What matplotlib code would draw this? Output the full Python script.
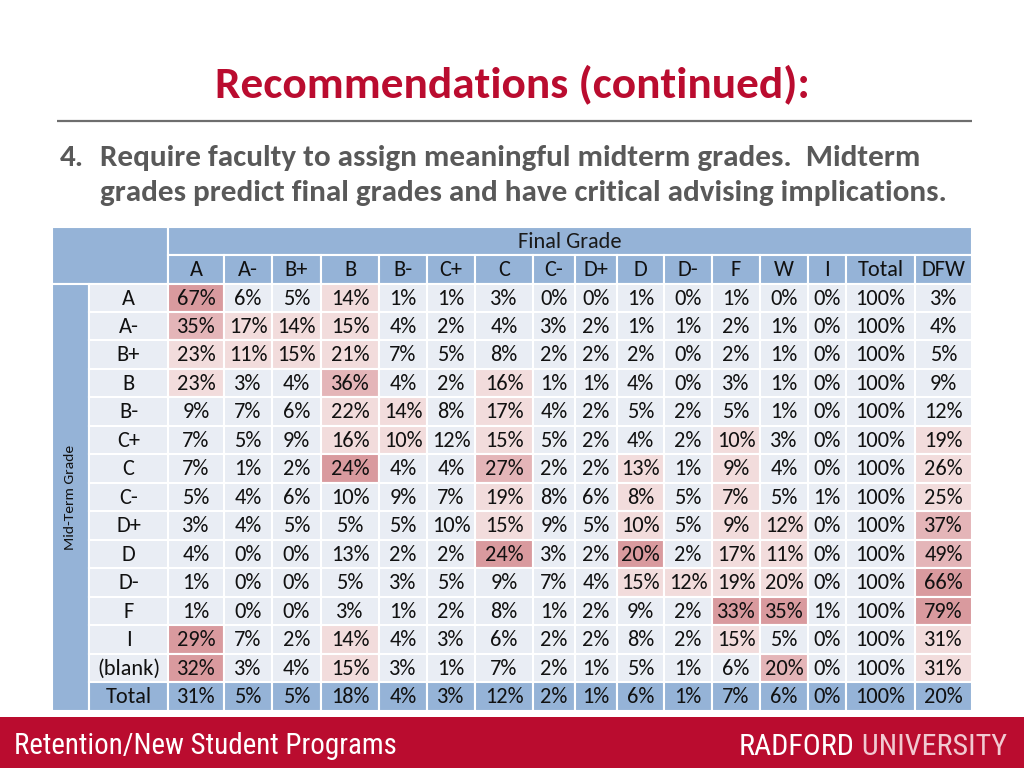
import matplotlib
matplotlib.use("Agg")
import matplotlib.pyplot as plt
from matplotlib.patches import Rectangle
from matplotlib import font_manager as fm

# ---------------- data ----------------
final_grades = ["A", "A-", "B+", "B", "B-", "C+", "C", "C-", "D+", "D", "D-",
                "F", "W", "I", "Total", "DFW"]
midterm_grades = ["A", "A-", "B+", "B", "B-", "C+", "C", "C-", "D+", "D", "D-",
                  "F", "I", "(blank)", "Total"]

row_A     = [67, 6, 5, 14, 1, 1, 3, 0, 0, 1, 0, 1, 0, 0, 100, 3]
row_Am    = [35, 17, 14, 15, 4, 2, 4, 3, 2, 1, 1, 2, 1, 0, 100, 4]
row_Bp    = [23, 11, 15, 21, 7, 5, 8, 2, 2, 2, 0, 2, 1, 0, 100, 5]
row_B     = [23, 3, 4, 36, 4, 2, 16, 1, 1, 4, 0, 3, 1, 0, 100, 9]
row_Bm    = [9, 7, 6, 22, 14, 8, 17, 4, 2, 5, 2, 5, 1, 0, 100, 12]
row_Cp    = [7, 5, 9, 16, 10, 12, 15, 5, 2, 4, 2, 10, 3, 0, 100, 19]
row_C     = [7, 1, 2, 24, 4, 4, 27, 2, 2, 13, 1, 9, 4, 0, 100, 26]
row_Cm    = [5, 4, 6, 10, 9, 7, 19, 8, 6, 8, 5, 7, 5, 1, 100, 25]
row_Dp    = [3, 4, 5, 5, 5, 10, 15, 9, 5, 10, 5, 9, 12, 0, 100, 37]
row_D     = [4, 0, 0, 13, 2, 2, 24, 3, 2, 20, 2, 17, 11, 0, 100, 49]
row_Dm    = [1, 0, 0, 5, 3, 5, 9, 7, 4, 15, 12, 19, 20, 0, 100, 66]
row_F     = [1, 0, 0, 3, 1, 2, 8, 1, 2, 9, 2, 33, 35, 1, 100, 79]
row_I     = [29, 7, 2, 14, 4, 3, 6, 2, 2, 8, 2, 15, 5, 0, 100, 31]
row_blank = [32, 3, 4, 15, 3, 1, 7, 2, 1, 5, 1, 6, 20, 0, 100, 31]
row_total = [31, 5, 5, 18, 4, 3, 12, 2, 1, 6, 1, 7, 6, 0, 100, 20]

# highlight level of each cell as seen in the picture (0 none .. 3 strong)
hl_A     = [3, 0, 0, 1, 0, 0, 0, 0, 0, 0, 0, 0, 0, 0, 0, 0]
hl_Am    = [2, 1, 1, 1, 0, 0, 0, 0, 0, 0, 0, 0, 0, 0, 0, 0]
hl_Bp    = [1, 1, 1, 1, 0, 0, 0, 0, 0, 0, 0, 0, 0, 0, 0, 0]
hl_B     = [1, 0, 0, 2, 0, 0, 1, 0, 0, 0, 0, 0, 0, 0, 0, 0]
hl_Bm    = [0, 0, 0, 1, 1, 0, 1, 0, 0, 0, 0, 0, 0, 0, 0, 0]
hl_Cp    = [0, 0, 0, 1, 1, 0, 1, 0, 0, 0, 0, 1, 0, 0, 0, 1]
hl_C     = [0, 0, 0, 3, 0, 0, 2, 0, 0, 1, 0, 1, 0, 0, 0, 1]
hl_Cm    = [0, 0, 0, 0, 0, 0, 1, 0, 0, 1, 0, 1, 0, 0, 0, 1]
hl_Dp    = [0, 0, 0, 0, 0, 0, 1, 0, 0, 1, 0, 1, 1, 0, 0, 2]
hl_D     = [0, 0, 0, 0, 0, 0, 3, 0, 0, 3, 0, 1, 1, 0, 0, 2]
hl_Dm    = [0, 0, 0, 0, 0, 0, 0, 0, 0, 1, 1, 1, 1, 0, 0, 3]
hl_F     = [0, 0, 0, 0, 0, 0, 0, 0, 0, 0, 0, 3, 3, 0, 0, 3]
hl_I     = [3, 0, 0, 1, 0, 0, 0, 0, 0, 0, 0, 1, 0, 0, 0, 1]
hl_blank = [3, 0, 0, 1, 0, 0, 0, 0, 0, 0, 0, 0, 2, 0, 0, 1]

rows = [row_A, row_Am, row_Bp, row_B, row_Bm, row_Cp, row_C, row_Cm, row_Dp,
        row_D, row_Dm, row_F, row_I, row_blank, row_total]
highlights = [hl_A, hl_Am, hl_Bp, hl_B, hl_Bm, hl_Cp, hl_C, hl_Cm, hl_Dp,
              hl_D, hl_Dm, hl_F, hl_I, hl_blank, [0] * 16]

title = "Recommendations (continued):"
bullet_num = "4."
bullet_line1 = "Require faculty to assign meaningful midterm grades.  Midterm"
bullet_line2 = "grades predict final grades and have critical advising implications."
col_header = "Final Grade"
row_header = "Mid-Term Grade"
footer_left = "Retention/New Student Programs"
footer_right_1 = "RADFORD"
footer_right_2 = "UNIVERSITY"

# ---------------- fonts ----------------
avail = {f.name for f in fm.fontManager.ttflist}


def pick(*names):
    for n in names:
        if n in avail:
            return n
    return "DejaVu Sans"


BODY = pick("Carlito", "Lato", "Open Sans")
NARROW = pick("Liberation Sans Narrow", "Roboto Condensed", "Lato")

# ---------------- layout / style ----------------
RED = "#BA0C2F"
BLUE = "#95B3D7"
BASE = "#E9EDF4"
PINKS = {1: "#F2DCDC", 2: "#E4B5B8", 3: "#D99A9E"}
GRAY_TXT = "#595959"

fig = plt.figure(figsize=(10.24, 7.68), dpi=100)
ax = fig.add_axes([0, 0, 1, 1])
ax.set_xlim(0, 1024)
ax.set_ylim(768, 0)
ax.axis("off")
renderer = fig.canvas.get_renderer()


def fit(t, target, dim="width"):
    for _ in range(3):
        bb = t.get_window_extent(renderer)
        w = bb.width if dim == "width" else bb.height
        t.set_fontsize(t.get_fontsize() * target / w)
    return t.get_fontsize()


# title
t = ax.text(512, 97, title, ha="center", va="baseline", color=RED,
            fontfamily=BODY, fontweight="bold", fontsize=28)
fit(t, 595)

# rule
ax.plot([57, 972], [121, 121], color="#6E6E6E", lw=1.6, solid_capstyle="butt")

# bullet text
t1 = ax.text(100, 166, bullet_line1, ha="left", va="baseline", color=GRAY_TXT,
             fontfamily=BODY, fontweight="bold", fontsize=18)
fs_b = fit(t1, 820)
ax.text(60, 166, bullet_num, ha="left", va="baseline", color=GRAY_TXT,
        fontfamily=BODY, fontweight="bold", fontsize=fs_b)
ax.text(100, 201, bullet_line2, ha="left", va="baseline", color=GRAY_TXT,
        fontfamily=BODY, fontweight="bold", fontsize=fs_b)

# table geometry
col_edges = [168, 224, 272, 321, 379, 427, 475, 533, 575, 617, 664, 712,
             760, 808, 846, 915, 972]
x_left, x_lab = 52, 89
y_top, y_hdr, y_rows = 227, 255, 283.5
row_h = 28.47
GRID = dict(edgecolor="white", lw=1.5)

# table text size (fit "100%" to ~50px)
tmp = ax.text(0, 0, "100%", fontfamily=BODY, fontsize=14)
fs_t = fit(tmp, 50)
tmp.remove()

# header blocks
ax.add_patch(Rectangle((x_left, y_top), col_edges[0] - x_left, y_rows - y_top,
                       facecolor=BLUE, **GRID))
ax.add_patch(Rectangle((col_edges[0], y_top), col_edges[-1] - col_edges[0],
                       y_hdr - y_top, facecolor=BLUE, **GRID))
ax.text((col_edges[0] + col_edges[-1]) / 2, (y_top + y_hdr) / 2 + 6.5, col_header,
        ha="center", va="baseline", fontfamily=BODY, fontsize=fs_t,
        color="#1a1a1a")
for j, lab in enumerate(final_grades):
    x0, x1 = col_edges[j], col_edges[j + 1]
    ax.add_patch(Rectangle((x0, y_hdr), x1 - x0, y_rows - y_hdr,
                           facecolor=BLUE, **GRID))
    ax.text((x0 + x1) / 2, (y_hdr + y_rows) / 2 + 6.8, lab, ha="center",
            va="baseline", fontfamily=BODY, fontsize=fs_t, color="#111111")

# mid-term grade side block
n_rows = len(rows)
y_bot = y_rows + n_rows * row_h
ax.add_patch(Rectangle((x_left, y_rows), x_lab - x_left, y_bot - y_rows,
                       facecolor=BLUE, **GRID))
tv = ax.text((x_left + x_lab) / 2, (y_rows + y_bot) / 2, row_header, rotation=90,
             ha="center", va="center", fontfamily=BODY, fontsize=10,
             color="#111111")
fit(tv, 105, dim="height")

# body rows
for i, (lab, vals, hls) in enumerate(zip(midterm_grades, rows, highlights)):
    y0 = y_rows + i * row_h
    is_total = (lab == "Total")
    ax.add_patch(Rectangle((x_lab, y0), col_edges[0] - x_lab, row_h,
                           facecolor=BLUE if is_total else BASE, **GRID))
    ax.text((x_lab + col_edges[0]) / 2, y0 + row_h / 2 + 6.8, lab, ha="center",
            va="baseline", fontfamily=BODY, fontsize=fs_t, color="#111111")
    for j, (v, h) in enumerate(zip(vals, hls)):
        x0, x1 = col_edges[j], col_edges[j + 1]
        fc = BLUE if is_total else PINKS.get(h, BASE)
        ax.add_patch(Rectangle((x0, y0), x1 - x0, row_h, facecolor=fc, **GRID))
        ax.text((x0 + x1) / 2, y0 + row_h / 2 + 6.8, f"{v}%", ha="center",
                va="baseline", fontfamily=BODY, fontsize=fs_t, color="#111111")

# footer band
ax.add_patch(Rectangle((0, 717), 1024, 51, facecolor=RED, edgecolor="none"))
tf = ax.text(14, 754, footer_left, ha="left", va="baseline", color="white",
             fontfamily=NARROW, fontsize=18)
fit(tf, 382)
tr1 = ax.text(739, 755, footer_right_1, ha="left", va="baseline", color="white",
              fontfamily=NARROW, fontsize=20)
tr2 = ax.text(0, 755, " " + footer_right_2, ha="left", va="baseline",
              color="#F1C9D1", fontfamily=NARROW, fontsize=20)
for _ in range(3):
    w1 = tr1.get_window_extent(renderer).width
    tr2.set_x(739 + w1)
    w2 = tr2.get_window_extent(renderer).width
    s = 268 / (w1 + w2)
    tr1.set_fontsize(tr1.get_fontsize() * s)
    tr2.set_fontsize(tr2.get_fontsize() * s)
w1 = tr1.get_window_extent(renderer).width
tr2.set_x(739 + w1)

fig.savefig("out.png", dpi=100, facecolor="white")
